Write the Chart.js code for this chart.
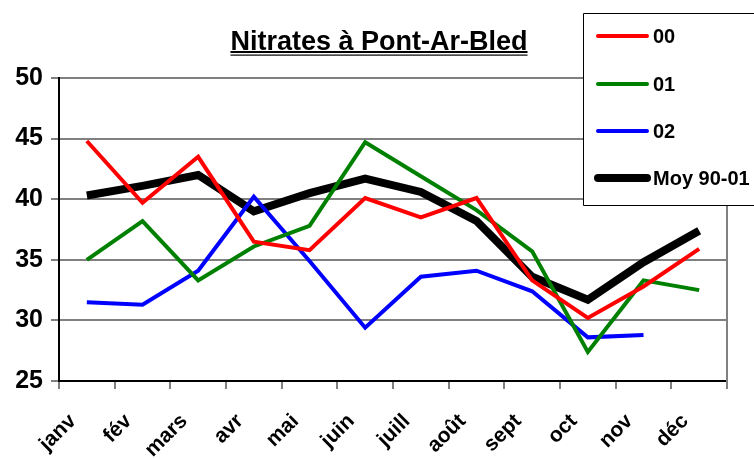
<!DOCTYPE html>
<html>
<head>
<meta charset="utf-8">
<script src="https://cdn.jsdelivr.net/npm/chart.js@4/dist/chart.umd.min.js"></script>
<style>
  html, body { margin: 0; padding: 0; background: #fff; overflow: hidden; }
  #wrap { width: 754px; height: 459px; position: relative; }
</style>
</head>
<body>
<div id="wrap"><canvas id="c"></canvas></div>
<script>
const months = ['janv', 'fév', 'mars', 'avr', 'mai', 'juin', 'juill', 'août', 'sept', 'oct', 'nov', 'déc'];
const serie00 = [44.8, 39.7, 43.5, 36.5, 35.8, 40.1, 38.5, 40.1, 33.3, 30.2, 32.8, 35.9];
const serie01 = [35.0, 38.2, 33.3, 36.1, 37.8, 44.7, 41.9, 39.1, 35.7, 27.4, 33.3, 32.5];
const serie02 = [31.5, 31.3, 34.1, 40.2, 34.9, 29.4, 33.6, 34.1, 32.4, 28.6, 28.8, null];
const moyenne = [40.3, 41.1, 42.0, 39.0, 40.5, 41.7, 40.6, 38.2, 33.6, 31.7, 34.8, 37.4];
const yTicks = [25, 30, 35, 40, 45, 50];

const FONT = '"Liberation Sans", Arial, sans-serif';

// titre souligné (double trait), bord droit, légende encadrée
const decorPlugin = {
    id: 'decor',
    afterDraw(chart) {
        const {ctx, chartArea: {top, bottom, right}} = chart;
        ctx.save();
        ctx.strokeStyle = '#808080';
        ctx.lineWidth = 2;
        ctx.beginPath();
        ctx.moveTo(right, top);
        ctx.lineTo(right, bottom + 8);
        ctx.stroke();

        // titre
        const title = 'Nitrates à Pont-Ar-Bled';
        ctx.font = 'bold 27px ' + FONT;
        ctx.fillStyle = '#000';
        ctx.textAlign = 'center';
        ctx.textBaseline = 'alphabetic';
        const cx = 379;
        ctx.fillText(title, cx, 50);
        const w = ctx.measureText(title).width;
        ctx.fillRect(cx - w / 2, 51, w, 2);
        ctx.fillRect(cx - w / 2, 54.5, w, 1.2);

        // légende (coupée par le bord droit)
        ctx.fillStyle = '#fff';
        ctx.fillRect(583, 13, 220, 192);
        ctx.strokeStyle = '#000';
        ctx.lineWidth = 1;
        ctx.beginPath();
        ctx.moveTo(800, 13.5);
        ctx.lineTo(583.5, 13.5);
        ctx.lineTo(583.5, 205.5);
        ctx.lineTo(800, 205.5);
        ctx.stroke();
        const rowsY = [36, 84, 131, 178];
        ctx.font = 'bold 20px ' + FONT;
        ctx.textAlign = 'left';
        ctx.textBaseline = 'middle';
        chart.data.datasets.forEach((ds, i) => {
            const y = rowsY[i];
            ctx.strokeStyle = ds.borderColor;
            ctx.lineWidth = ds.borderWidth;
            ctx.lineCap = 'round';
            ctx.beginPath();
            ctx.moveTo(598, y);
            ctx.lineTo(647, y);
            ctx.stroke();
            ctx.fillStyle = '#000';
            ctx.fillText(ds.label, 653, y + 1);
        });
        ctx.restore();
    }
};

const datasets = [
    {label: '00', data: serie00, borderColor: '#ff0000', borderWidth: 4},
    {label: '01', data: serie01, borderColor: '#008000', borderWidth: 4},
    {label: '02', data: serie02, borderColor: '#0000ff', borderWidth: 4},
    {label: 'Moy 90-01', data: moyenne, borderColor: '#000000', borderWidth: 8}
].map(d => Object.assign(d, {
    pointRadius: 0,
    pointHoverRadius: 0,
    tension: 0,
    fill: false,
    spanGaps: false
}));

new Chart(document.getElementById('c'), {
    type: 'line',
    data: {labels: months, datasets: datasets},
    plugins: [decorPlugin],
    options: {
        responsive: true,
        maintainAspectRatio: false,
        animation: false,
        events: [],
        layout: {padding: {top: 78, right: 27, left: 0, bottom: 0}},
        plugins: {
            legend: {display: false},
            title: {display: false},
            tooltip: {enabled: false}
        },
        scales: {
            x: {
                offset: true,
                grid: {
                    offset: true,
                    drawOnChartArea: false,
                    drawTicks: true,
                    tickLength: 8,
                    color: '#808080',
                    lineWidth: 2
                },
                border: {display: true, color: '#000', width: 2},
                ticks: {
                    font: {family: FONT, size: 21, weight: 'bold'},
                    color: '#000',
                    maxRotation: 45,
                    minRotation: 45,
                    padding: 20,
                    labelOffset: -14,
                    autoSkip: false
                },
                afterFit(scale) { scale.height = 78; }
            },
            y: {
                min: 25,
                max: 50,
                afterBuildTicks(scale) { scale.ticks = yTicks.map(v => ({value: v})); },
                grid: {
                    color: '#808080',
                    lineWidth: 2,
                    tickLength: 8,
                    drawTicks: true
                },
                border: {display: true, color: '#000', width: 2},
                ticks: {
                    font: {family: FONT, size: 25, weight: 'bold'},
                    color: '#000',
                    padding: 8
                },
                afterFit(scale) { scale.width = 59; }
            }
        }
    }
});
</script>
</body>
</html>
